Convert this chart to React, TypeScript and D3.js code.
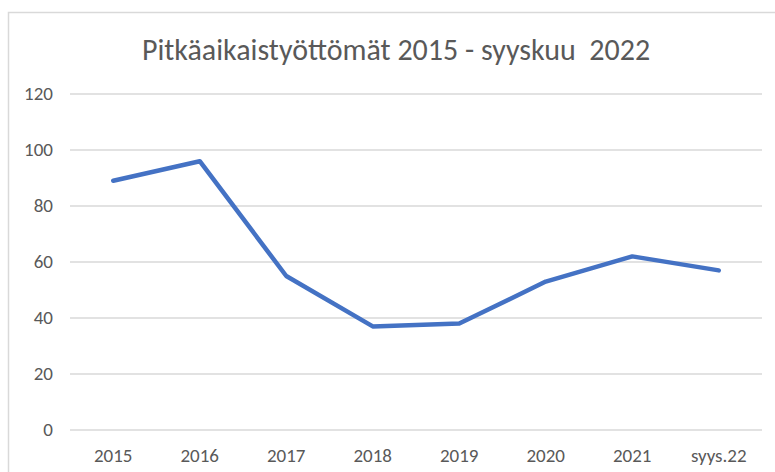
import * as d3 from "d3";

const categories = ["2015", "2016", "2017", "2018", "2019", "2020", "2021", "syys.22"];
const values = [89, 96, 55, 37, 38, 53, 62, 57];
const yTicks = [0, 20, 40, 60, 80, 100, 120];
const title = "Pitkäaikaistyöttömät 2015 - syyskuu  2022";

const W = 775;
const H = 472;
const plot = { left: 70, right: 762, top: 94, bottom: 430 };
const font = "Calibri, Carlito, 'Open Sans', sans-serif";

export default function App() {
  const x = d3
    .scaleBand<string>()
    .domain(categories)
    .range([plot.left, plot.right]);
  const y = d3.scaleLinear().domain([0, 120]).range([plot.bottom, plot.top]);

  const line = d3
    .line<number>()
    .x((_, i) => (x(categories[i]) ?? 0) + x.bandwidth() / 2)
    .y((d) => y(d));

  return (
    <div style={{ position: "fixed", left: 0, top: 0 }}>
      <svg width={W} height={H} style={{ display: "block", background: "#fff" }}>
        {/* chart frame */}
        <rect x={8.5} y={12.5} width={800} height={500} fill="#fff" stroke="#d9d9d9" strokeWidth={1.5} />

        <text
          x={396}
          y={60}
          textAnchor="middle"
          fontFamily={font}
          fontSize={30}
          fill="#595959"
          style={{ whiteSpace: "pre" }}
        >
          {title}
        </text>

        {/* grid lines */}
        {yTicks.map((t) => (
          <line
            key={t}
            x1={plot.left}
            x2={plot.right}
            y1={y(t)}
            y2={y(t)}
            stroke="#d9d9d9"
            strokeWidth={1.3}
          />
        ))}

        {/* y labels */}
        {yTicks.map((t) => (
          <text
            key={"l" + t}
            x={53}
            y={y(t)}
            dy="0.33em"
            textAnchor="end"
            fontFamily={font}
            fontSize={19}
            fill="#595959"
          >
            {t}
          </text>
        ))}

        {/* x labels */}
        {categories.map((c) => (
          <text
            key={c}
            x={(x(c) ?? 0) + x.bandwidth() / 2}
            y={462}
            textAnchor="middle"
            fontFamily={font}
            fontSize={19}
            fill="#595959"
          >
            {c}
          </text>
        ))}

        <path
          d={line(values) ?? ""}
          fill="none"
          stroke="#4472c4"
          strokeWidth={4.5}
          strokeLinejoin="round"
          strokeLinecap="round"
        />
      </svg>
    </div>
  );
}
